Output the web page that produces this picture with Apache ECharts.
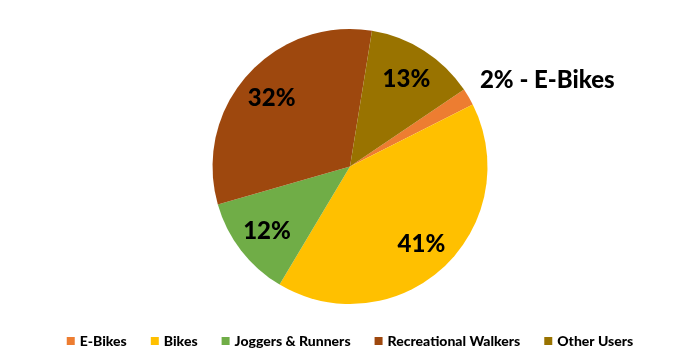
<!DOCTYPE html>
<html>
<head>
<meta charset="utf-8">
<script src="https://cdn.jsdelivr.net/npm/echarts@6/dist/echarts.min.js"></script>
<style>
html,body{margin:0;padding:0;background:#fff;}
#chart{width:700px;height:362px;}
</style>
</head>
<body>
<div id="chart"></div>
<script>
var categories = ['E-Bikes', 'Bikes', 'Joggers & Runners', 'Recreational Walkers', 'Other Users'];
var shares = [2, 41, 12, 32, 13];
var colors = ['#ED7D31', '#FFC000', '#70AD47', '#9E480E', '#997300'];

var chart = echarts.init(document.getElementById('chart'), null, {renderer: 'canvas'});

var mainData = categories.map(function (name, i) {
  var item = {name: name, value: shares[i], itemStyle: {color: colors[i]}};
  if (i === 0) {
    item.label = {
      show: true,
      position: 'outside',
      formatter: '{d}% - {b}',
      fontFamily: 'Lato',
      fontWeight: 900,
      fontSize: 24,
      color: '#000'
    };
    item.labelLine = {show: false, length: 34, length2: 0};
  }
  return item;
});

var labelData = categories.map(function (name, i) {
  return {
    name: name,
    value: shares[i],
    itemStyle: {color: 'rgba(0,0,0,0)'},
    label: {show: i !== 0}
  };
});

chart.setOption({
  animation: false,
  backgroundColor: '#fff',
  legend: {
    data: categories,
    left: 'center',
    top: 329,
    icon: 'rect',
    itemWidth: 8,
    itemHeight: 8,
    itemGap: 24,
    textStyle: {fontFamily: 'Lato', fontWeight: 900, fontSize: 14, color: '#000'}
  },
  series: [
    {
      type: 'pie',
      center: [350, 166.5],
      radius: [0, 137.5],
      startAngle: 34,
      clockwise: true,
      avoidLabelOverlap: false,
      percentPrecision: 0,
      label: {show: false},
      labelLine: {show: false},
      labelLayout: function (p) {
        if (p.dataIndex === 0) { return {dx: -23, dy: 1}; }
        return {};
      },
      emphasis: {disabled: true},
      data: mainData
    },
    {
      type: 'pie',
      silent: true,
      center: [350, 166.5],
      radius: [66, 137.5],
      startAngle: 34,
      clockwise: true,
      avoidLabelOverlap: false,
      percentPrecision: 0,
      legendHoverLink: false,
      label: {
        position: 'inside',
        formatter: '{d}%',
        fontFamily: 'Lato',
        fontWeight: 900,
        fontSize: 24,
        color: '#000'
      },
      labelLayout: function () { return {dy: 1}; },
      labelLine: {show: false},
      emphasis: {disabled: true},
      data: labelData
    }
  ]
});
</script>
</body>
</html>
